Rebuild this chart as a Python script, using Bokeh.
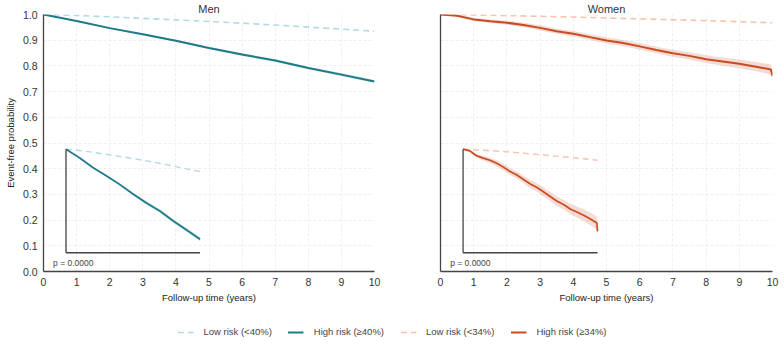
from bokeh.plotting import figure
from bokeh.models import Range1d, Label, FixedTicker, Legend, LegendItem, PrintfTickFormatter
from bokeh.layouts import column, row
from bokeh.embed import file_html
from bokeh.resources import INLINE

# ---------------- data ----------------
t_year = [0, 1, 2, 3, 4, 5, 6, 7, 8, 9, 10]
men_high = [1.000, 0.975, 0.947, 0.923, 0.898, 0.870, 0.844, 0.821, 0.792, 0.766, 0.739]
men_high_ci = [0.000, 0.002, 0.003, 0.003, 0.004, 0.004, 0.005, 0.005, 0.005, 0.006, 0.006]
men_low = [1.000, 0.996, 0.991, 0.985, 0.979, 0.973, 0.966, 0.959, 0.951, 0.943, 0.935]

t_women_high = [0, 0.5, 1, 1.5, 2, 2.5, 3, 3.5, 4, 4.5, 5, 5.5, 6, 6.5, 7, 7.5, 8, 8.5, 9, 9.5, 9.95, 10]
women_high = [1.000, 0.995, 0.981, 0.974, 0.968, 0.959, 0.948, 0.935, 0.925, 0.912, 0.899,
              0.889, 0.876, 0.862, 0.849, 0.839, 0.826, 0.817, 0.808, 0.797, 0.786, 0.762]
women_high_ci = [0.000, 0.004, 0.006, 0.007, 0.008, 0.009, 0.010, 0.010, 0.011, 0.011, 0.012,
                 0.012, 0.013, 0.013, 0.014, 0.014, 0.015, 0.016, 0.017, 0.018, 0.019, 0.016]
t_women_low = [0, 2, 4, 6, 8, 10]
women_low = [1.000, 0.996, 0.990, 0.983, 0.976, 0.968]

x_ticks = [0, 1, 2, 3, 4, 5, 6, 7, 8, 9, 10]
y_ticks = [0.0, 0.1, 0.2, 0.3, 0.4, 0.5, 0.6, 0.7, 0.8, 0.9, 1.0]
panel_titles = ["Men", "Women"]
legend_labels = ["Low risk (<40%)", "High risk (\u226540%)", "Low risk (<34%)", "High risk (\u226534%)"]
p_value_text = "p = 0.0000"
inset_y = (0.7, 1.0)

# ---------------- styles ----------------
FONT = "Liberation Sans"
TEAL = "#1c7a89"
TEAL_LIGHT = "#b2dae4"
ORANGE = "#c94b22"
ORANGE_LIGHT = "#f8c3ab"
AXIS = "#444444"
GRID = "#efefef"

# inset box in main-data coordinates
INSET_X = (0.68, 4.73)
INSET_Y = (0.073, 0.476)


def inset_ranges():
    fx = 10.0 / (INSET_X[1] - INSET_X[0])
    xs = 0 - INSET_X[0] * fx
    xe = 0 + (10 - INSET_X[0]) * fx
    span = inset_y[1] - inset_y[0]
    fy = span / (INSET_Y[1] - INSET_Y[0])
    ys = inset_y[0] - INSET_Y[0] * fy
    ye = inset_y[0] + (1 - INSET_Y[0]) * fy
    return Range1d(xs, xe), Range1d(ys, ye)


def make_panel(title, width, border_left, border_right, show_y):
    p = figure(width=width, height=318, x_range=Range1d(0, 10), y_range=Range1d(0, 1),
               output_backend="svg", toolbar_location=None,
               min_border_left=border_left, min_border_right=border_right,
               min_border_top=0, min_border_bottom=47)
    p.title.text = title
    p.title.align = "center"
    p.title.text_font = FONT
    p.title.text_font_size = "11px"
    p.title.text_font_style = "normal"
    p.title.text_color = "#333333"
    p.title.standoff = 0
    p.title.offset = 0
    p.outline_line_color = None
    p.background_fill_color = "white"
    p.border_fill_color = "white"
    p.xaxis.ticker = FixedTicker(ticks=x_ticks)
    p.xgrid.ticker = FixedTicker(ticks=x_ticks)
    p.ygrid.ticker = FixedTicker(ticks=y_ticks)
    if show_y:
        p.yaxis.ticker = FixedTicker(ticks=y_ticks)
        p.yaxis.formatter = PrintfTickFormatter(format="%.1f")
        p.yaxis.axis_label = "Event-free probability"
    else:
        p.yaxis.ticker = FixedTicker(ticks=[])
    p.xaxis.axis_label = "Follow-up time (years)"
    for ax in p.axis:
        ax.axis_line_color = AXIS
        ax.axis_line_width = 1.3
        ax.major_tick_line_color = None
        ax.minor_tick_line_color = None
        ax.major_tick_out = 0
        ax.major_tick_in = 0
        ax.major_label_text_font = FONT
        ax.major_label_text_font_size = "10.5px"
        ax.major_label_text_color = "#333333"
        ax.axis_label_text_font = FONT
        ax.axis_label_text_font_size = "9.5px"
        ax.axis_label_text_font_style = "normal"
        ax.axis_label_text_color = "#222222"
    p.xaxis.major_label_standoff = 6
    p.xaxis.axis_label_standoff = 3
    p.yaxis.major_label_standoff = 6
    p.yaxis.axis_label_standoff = 4
    p.grid.grid_line_color = GRID
    p.grid.grid_line_dash = "3 2"
    p.grid.grid_line_width = 1
    xr, yr = inset_ranges()
    p.extra_x_ranges = {"ix": xr}
    p.extra_y_ranges = {"iy": yr}
    return p


def draw(p, tl, low, th, high, ci, dark, light, range_names=None, lw_hi=2.0, lw_lo=1.6):
    kw = {}
    if range_names:
        kw = dict(x_range_name=range_names[0], y_range_name=range_names[1])
    lower = [v - c for v, c in zip(high, ci)]
    upper = [v + c for v, c in zip(high, ci)]
    p.varea(x=th, y1=lower, y2=upper, fill_color=dark, fill_alpha=0.2, **kw)
    p.line(tl, low, line_color=light, line_width=lw_lo, line_dash="6 4", **kw)
    p.line(th, high, line_color=dark, line_width=lw_hi, **kw)


def draw_inset(p, tl, low, th, high, ci, dark, light):
    draw(p, tl, low, th, high, ci, dark, light, range_names=("ix", "iy"), lw_hi=1.7, lw_lo=1.4)
    p.segment(x0=[0, 0], y0=[inset_y[0], inset_y[0]], x1=[0, 10], y1=[inset_y[1], inset_y[0]],
              line_color=AXIS, line_width=1.3, x_range_name="ix", y_range_name="iy")
    p.add_layout(Label(x=0.29, y=0.035, text=p_value_text, text_align="left",
                       text_baseline="middle", text_font=FONT, text_font_size="8.5px",
                       text_color="#444444"))


p1 = make_panel(panel_titles[0], 400, 43, 26, True)
draw(p1, t_year, men_low, t_year, men_high, men_high_ci, TEAL, TEAL_LIGHT)
draw_inset(p1, t_year, men_low, t_year, men_high, men_high_ci, TEAL, TEAL_LIGHT)

p2 = make_panel(panel_titles[1], 384, 40, 12, False)
draw(p2, t_women_low, women_low, t_women_high, women_high, women_high_ci, ORANGE, ORANGE_LIGHT)
draw_inset(p2, t_women_low, women_low, t_women_high, women_high, women_high_ci, ORANGE, ORANGE_LIGHT)

# ---------------- legend strip ----------------
pl = figure(width=784, height=27, x_range=Range1d(0, 1), y_range=Range1d(0, 1),
            output_backend="svg", toolbar_location=None,
            min_border_left=0, min_border_right=0, min_border_top=0, min_border_bottom=0)
pl.axis.visible = False
pl.grid.visible = False
pl.outline_line_color = None
off = [-10, -9]
r1 = pl.line(off, off, line_color=TEAL_LIGHT, line_width=1.6, line_dash="6 4")
r2 = pl.line(off, off, line_color=TEAL, line_width=2.0)
r3 = pl.line(off, off, line_color=ORANGE_LIGHT, line_width=1.6, line_dash="6 4")
r4 = pl.line(off, off, line_color=ORANGE, line_width=2.0)
leg = Legend(items=[LegendItem(label=legend_labels[i], renderers=[r])
                    for i, r in enumerate([r1, r2, r3, r4])],
             orientation="horizontal", location="center")
leg.border_line_color = None
leg.background_fill_alpha = 0
leg.label_text_font = FONT
leg.label_text_font_size = "9.5px"
leg.label_text_color = "#444444"
leg.glyph_width = 16
leg.label_standoff = 10
leg.spacing = 16
leg.padding = 0
leg.margin = 0
pl.add_layout(leg, "center")

layout = column(row(p1, p2), pl)
open("out.html", "w").write(file_html(layout, INLINE))
